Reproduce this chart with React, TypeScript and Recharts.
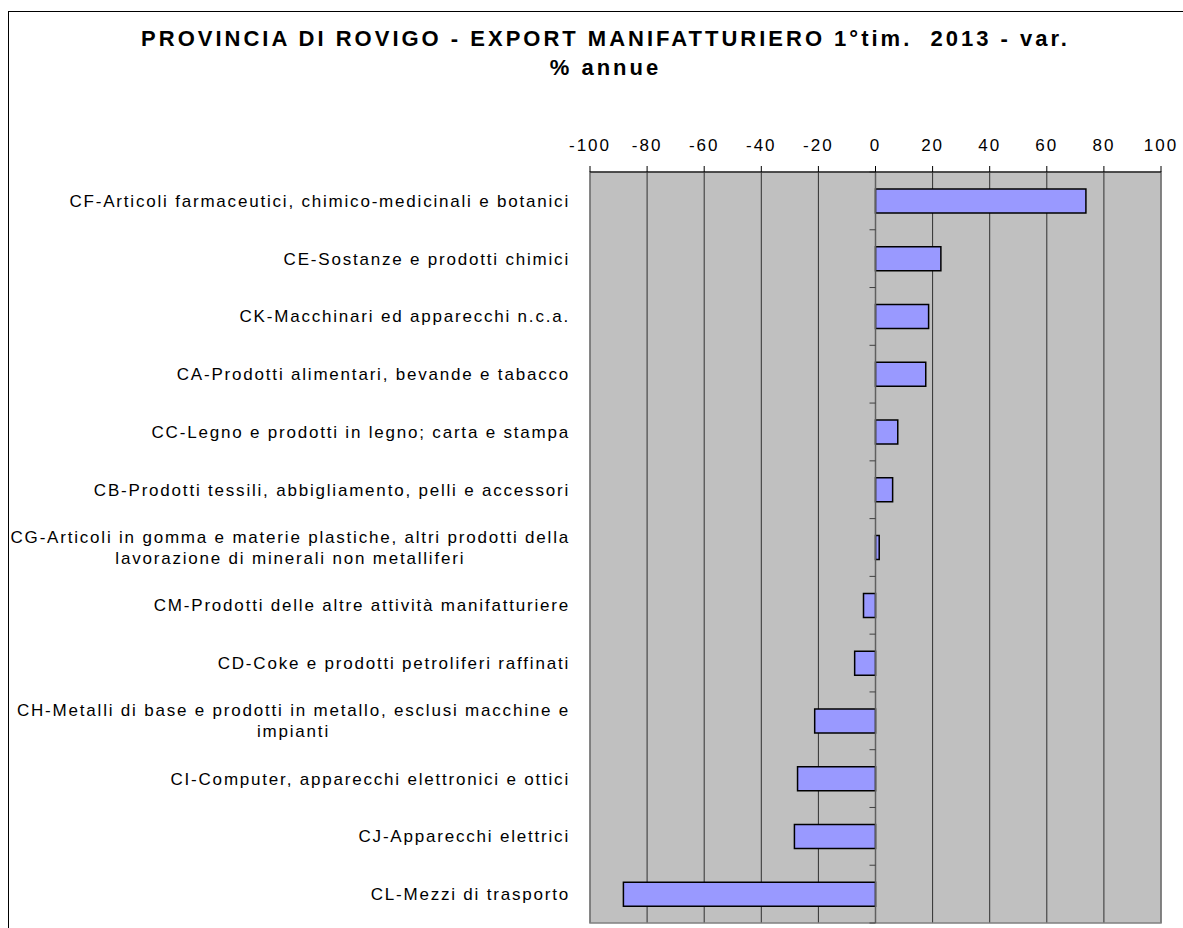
import {
  BarChart,
  Bar,
  XAxis,
  YAxis,
  CartesianGrid,
  ReferenceLine,
  ReferenceArea,
} from "recharts";

const categories = [
  "CF-Articoli farmaceutici, chimico-medicinali e botanici",
  "CE-Sostanze e prodotti chimici",
  "CK-Macchinari ed apparecchi n.c.a.",
  "CA-Prodotti alimentari, bevande e tabacco",
  "CC-Legno e prodotti in legno; carta e stampa",
  "CB-Prodotti tessili, abbigliamento, pelli e accessori",
  "CG-Articoli in gomma e materie plastiche, altri prodotti della\nlavorazione di minerali non metalliferi",
  "CM-Prodotti delle altre attività manifatturiere",
  "CD-Coke e prodotti petroliferi raffinati",
  "CH-Metalli di base e prodotti in metallo, esclusi macchine e\nimpianti",
  "CI-Computer, apparecchi elettronici e ottici",
  "CJ-Apparecchi elettrici",
  "CL-Mezzi di trasporto",
];

const variations = [73.7, 22.9, 18.6, 17.6, 7.8, 6.0, 1.3, -4.2, -7.3, -21.3, -27.3, -28.4, -88.3];

const xTicks = [-100, -80, -60, -40, -20, 0, 20, 40, 60, 80, 100];

const titleLines = [
  "PROVINCIA DI ROVIGO - EXPORT MANIFATTURIERO 1°tim.  2013 - var.",
  "% annue",
];

const data = categories.map((name, i) => ({ name, value: variations[i] }));

const FONT = '"Liberation Sans", Arial, sans-serif';
const LABEL_SIZE = 17;
const LABEL_SPACING = 1.8;

let measureCtx: any = null;
function textWidth(text: string) {
  if (!measureCtx) measureCtx = document.createElement("canvas").getContext("2d");
  if (!measureCtx) return text.length * 9;
  measureCtx.font = `${LABEL_SIZE}px ${FONT}`;
  measureCtx.letterSpacing = `${LABEL_SPACING}px`;
  return measureCtx.measureText(text).width;
}

function CategoryTick(props: any) {
  const { x, y, payload } = props;
  const lines: string[] = String(payload.value).split("\n");
  const lineH = 21;
  const top = y - ((lines.length - 1) * lineH) / 2;
  const firstW = textWidth(lines[0]);
  return (
    <g>
      {lines.map((line, i) => (
        <text
          key={i}
          x={i === 0 ? x : x - firstW / 2}
          y={top + i * lineH}
          dy="0.35em"
          textAnchor={i === 0 ? "end" : "middle"}
          fontFamily={FONT}
          fontSize={LABEL_SIZE}
          letterSpacing={LABEL_SPACING}
          fill="#000"
        >
          {line}
        </text>
      ))}
    </g>
  );
}

// zero line of the category axis, with tick marks at the category boundaries
function ZeroAxis(props: any) {
  const { x1, y1, y2 } = props;
  const top = Math.min(y1, y2);
  const bottom = Math.max(y1, y2);
  const step = (bottom - top) / categories.length;
  const marks = [];
  for (let i = 0; i <= categories.length; i++) {
    const yy = top + i * step;
    marks.push(<line key={i} x1={x1 - 6} x2={x1} y1={yy} y2={yy} stroke="#404040" strokeWidth={1} />);
  }
  return (
    <g>
      <line x1={x1} x2={x1} y1={top} y2={bottom} stroke="#606060" strokeWidth={1.5} />
      {marks}
    </g>
  );
}

export default function App() {
  return (
    <div style={wrapperStyle}>
      <div style={frameTopStyle} />
      <div style={frameLeftStyle} />
      <div style={titleStyle}>
        {titleLines.map((t, i) => (
          <div key={i}>{t}</div>
        ))}
      </div>
      <BarChart
        width={1183}
        height={928}
        data={data}
        layout="vertical"
        margin={{ top: 142, right: 22, bottom: 5, left: 0 }}
      >
        <CartesianGrid
          horizontal={false}
          vertical
          fill="#C0C0C0"
          stroke="#303030"
          strokeWidth={1}
        />
        <ReferenceArea x1={-100} x2={100} fill="none" stroke="#808080" strokeWidth={1.5} />
        <XAxis
          type="number"
          orientation="top"
          domain={[-100, 100]}
          ticks={xTicks}
          height={30}
          tickSize={6}
          tickMargin={15}
          axisLine={{ stroke: "#000" }}
          tickLine={{ stroke: "#000" }}
          tick={{ fontSize: 17, fill: "#000", fontFamily: FONT, letterSpacing: 2 }}
          interval={0}
        />
        <YAxis
          type="category"
          dataKey="name"
          width={590}
          axisLine={false}
          tickLine={false}
          tickSize={6}
          tickMargin={14}
          interval={0}
          tick={<CategoryTick />}
        />
        <ReferenceLine x={0} shape={<ZeroAxis />} />
        <Bar
          dataKey="value"
          fill="#9999FF"
          stroke="#000"
          strokeWidth={1.5}
          barSize={24}
          isAnimationActive={false}
        />
      </BarChart>
    </div>
  );
}

const wrapperStyle: React.CSSProperties = {
  position: "fixed",
  left: 0,
  top: 0,
  width: 1183,
  height: 928,
  overflow: "hidden",
  background: "#fff",
};

const frameTopStyle: React.CSSProperties = {
  position: "absolute",
  left: 8,
  top: 11,
  width: 1175,
  height: 1,
  background: "#000",
};

const frameLeftStyle: React.CSSProperties = {
  position: "absolute",
  left: 8,
  top: 11,
  width: 1,
  height: 917,
  background: "#000",
};

const titleStyle: React.CSSProperties = {
  position: "absolute",
  left: 0,
  top: 24,
  width: 1211,
  textAlign: "center",
  fontFamily: FONT,
  fontWeight: 700,
  fontSize: 22,
  letterSpacing: 3,
  lineHeight: "29px",
  color: "#000",
  whiteSpace: "pre",
};
